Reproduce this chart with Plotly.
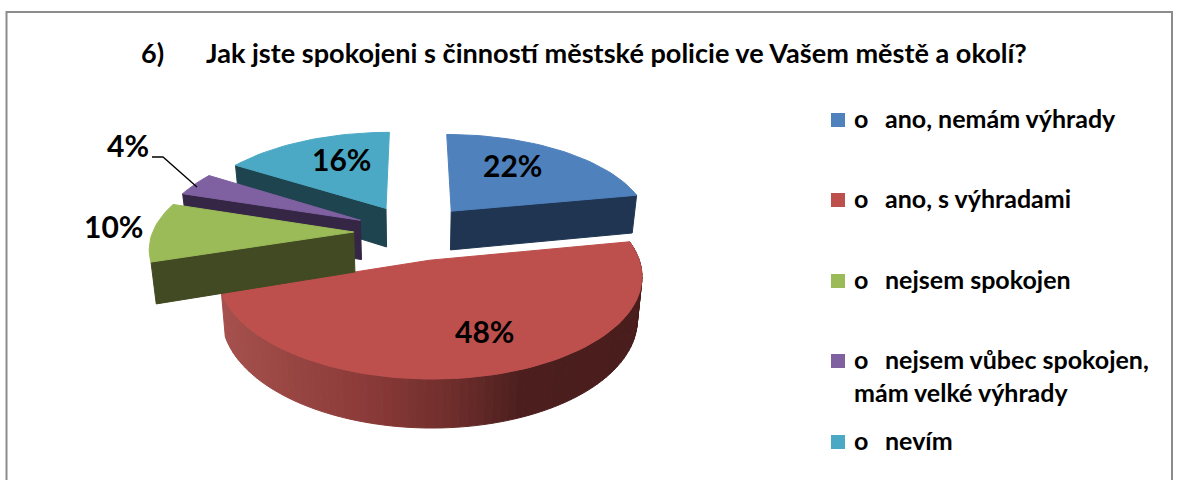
import math
import plotly.graph_objects as go

# ---- data ----
categories = ["ano, nemám výhrady", "ano, s výhradami", "nejsem spokojen",
              "nejsem vůbec spokojen,", "nevím"]
values = [22, 48, 10, 4, 16]
colors_top = ["#4F81BD", "#BD4F4C", "#9BBA58", "#7F60A0", "#4BA9C5"]
colors_wall = ["#1F3552", "#7A3330", "#414A22", "#352645", "#1E4450"]
title_number = "6)"
title_text = "Jak jste spokojeni s činností městské policie ve Vašem městě a okolí?"
legend_extra_line = "mám velké výhrady"

# ---- 3D pie projection settings (Excel-style exploded 3D pie) ----
CX, CY = 414.0, 232.0
R = 201.0
K = 0.463
P = 0.142
EXPLODE = 0.30
DEPTH = 40.0
CONVERGE = 0.02
N_DEG = 2.0


def project(x, y, drop=0.0):
    d = 1 + P * y
    return CX + R * x / d * (1 - CONVERGE * drop / DEPTH), CY - R * K * y / d + drop / d


total = sum(values)
angles = [0.0]
for v in values:
    angles.append(angles[-1] + 360.0 * v / total)


def wedge_geometry(a0, a1):
    mid = math.radians((a0 + a1) / 2)
    ox, oy = EXPLODE * math.sin(mid), EXPLODE * math.cos(mid)
    n = max(2, int((a1 - a0) / N_DEG))
    arc = []
    for i in range(n + 1):
        a = math.radians(a0 + (a1 - a0) * i / n)
        arc.append((ox + math.sin(a), oy + math.cos(a)))
    return (ox, oy), arc


def closed(points):
    xs = [p[0] for p in points] + [points[0][0]]
    ys = [p[1] for p in points] + [points[0][1]]
    return xs, ys


def poly_trace(points, color, name):
    xs, ys = closed(points)
    return go.Scatter(x=xs, y=ys, mode="lines", fill="toself", fillcolor=color,
                      line=dict(color=color, width=1), hoverinfo="skip",
                      name=name, showlegend=False)


def lerp_color(stops, t):
    t = max(0.0, min(1.0, t))
    for (t0, c0), (t1, c1) in zip(stops, stops[1:]):
        if t <= t1:
            u = (t - t0) / (t1 - t0) if t1 > t0 else 0
            rgb = [round(c0[i] + (c1[i] - c0[i]) * u) for i in range(3)]
            return f"rgb({rgb[0]},{rgb[1]},{rgb[2]})"
    return f"rgb{stops[-1][1]}"


red_gradient = [(0.0, (165, 80, 76)), (0.35, (138, 58, 56)),
                (0.55, (110, 46, 44)), (0.72, (76, 30, 30)), (1.0, (74, 29, 29))]

fig = go.Figure()

# drawing order: back to front as the picture overlaps them
for idx in [1, 0, 4, 3, 2]:
    (ox, oy), arc = wedge_geometry(angles[idx], angles[idx + 1])
    apex = project(ox, oy)
    apex_low = project(ox, oy, DEPTH)
    top = [apex] + [project(*p) for p in arc]
    first, last = arc[0], arc[-1]
    if idx == 1:
        for p0, p1 in zip(arc, arc[1:]):
            q0, q1 = project(*p0), project(*p1)
            t = ((q0[0] + q1[0]) / 2 - 222) / (640 - 222)
            seg = [q0, q1, project(*p1, DEPTH), project(*p0, DEPTH)]
            fig.add_trace(poly_trace(seg, lerp_color(red_gradient, t), categories[idx] + " side"))
    else:
        # the radial face turned towards the viewer
        edge = first if idx in (2, 3, 4) else last
        fig.add_trace(poly_trace([apex, project(*edge), project(*edge, DEPTH), apex_low],
                                 colors_wall[idx], categories[idx] + " wall"))
    fig.add_trace(poly_trace(top, colors_top[idx], categories[idx]))

# leader line of the smallest slice
fig.add_trace(go.Scatter(x=[152, 163, 197], y=[157, 157, 187], mode="lines",
                         line=dict(color="black", width=1.3), hoverinfo="skip",
                         showlegend=False))

# legend swatches
legend_ys = [120, 200, 281, 361, 442]
fig.add_trace(go.Scatter(x=[838] * 5, y=legend_ys, mode="markers",
                         marker=dict(symbol="square", size=14, color=colors_top, line=dict(width=0)),
                         hoverinfo="skip", showlegend=False))

FONT = "Lato, Open Sans, sans-serif"
annotations = []


def text(x, y, s, size, anchor="left"):
    annotations.append(dict(x=x, y=y, xref="x", yref="y", text=f"<b>{s}</b>", showarrow=False,
                            xanchor=anchor, yanchor="middle",
                            font=dict(family=FONT, size=size, color="black")))


text(139, 52, title_number, 27)
text(204, 52, title_text, 27.1)

for cat, y in zip(categories, legend_ys):
    text(852, y - 2, "o", 25)
    text(883, y - 2, cat, 25)
text(852, 392, legend_extra_line, 25)

label_pos = [(512, 165), (484, 331), (113, 226), (128, 145), (341, 159)]
for v, (x, y) in zip(values, label_pos):
    text(x, y, f"{v}%", 30, "center")

fig.update_layout(
    width=1177, height=480, margin=dict(l=0, r=0, t=0, b=0),
    paper_bgcolor="white", plot_bgcolor="white", showlegend=False,
    xaxis=dict(range=[0, 1177], visible=False, fixedrange=True),
    yaxis=dict(range=[480, 0], visible=False, fixedrange=True),
    annotations=annotations,
    shapes=[dict(type="rect", xref="x", yref="y", x0=6.5, y0=12, x1=1172, y1=500,
                 line=dict(color="#8C8C8C", width=2), layer="below")],
)
fig.write_html("out.html", config={"displayModeBar": False},
               post_script="document.body.style.margin='0';document.documentElement.style.overflow='hidden';")
